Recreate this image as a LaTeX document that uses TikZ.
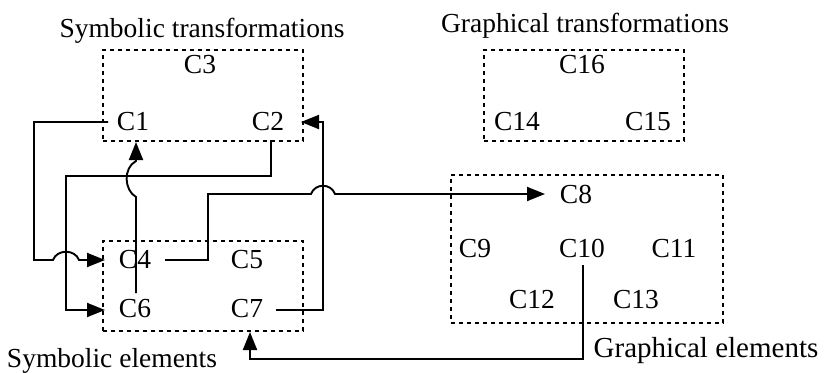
\documentclass[tikz,border=0pt]{standalone}
\usepackage{fontspec}
\setmainfont{Liberation Serif}
\usetikzlibrary{arrows.meta}
\begin{document}
\begin{tikzpicture}[x=1pt,y=-1pt,
  lbl/.style={anchor=base, inner sep=0pt, font=\fontsize{27.5}{32}\selectfont},
  grp/.style={draw, line width=1.9pt, dash pattern=on 4pt off 4pt, anchor=north west, inner sep=0pt},
  conn/.style={line width=1.9pt, -{Triangle[length=18pt,width=14pt]}}]
\useasboundingbox (0,0) rectangle (824,372);
% groups
\node[grp, minimum width=200pt, minimum height=91pt] (box1) at (102,49) {};
\node[grp, minimum width=200pt, minimum height=91pt] (box3) at (483,49) {};
\node[grp, minimum width=200pt, minimum height=90pt] (box2) at (102,240) {};
\node[grp, minimum width=272pt, minimum height=148pt] (box4) at (450,174) {};
% titles
\node[lbl] (t1) at (202,37) {Symbolic transformations};
\node[lbl] (t2) at (585,32) {Graphical transformations};
\node[lbl] (t3) at (112,367) {Symbolic elements};
\node[lbl, font=\fontsize{29}{33}\selectfont] (t4) at (706,357) {Graphical elements};
% labels
\node[lbl] (C3) at (200,73) {C3};
\node[lbl] (C1) at (133,130) {C1};
\node[lbl] (C2) at (268,130) {C2};
\node[lbl] (C16) at (582,73) {C16};
\node[lbl] (C14) at (517,130) {C14};
\node[lbl] (C15) at (648,130) {C15};
\node[lbl] (C4) at (135,268) {C4};
\node[lbl] (C5) at (247,268) {C5};
\node[lbl] (C6) at (135,317) {C6};
\node[lbl] (C7) at (247,317) {C7};
\node[lbl] (C8) at (576,203) {C8};
\node[lbl] (C9) at (475,257) {C9};
\node[lbl] (C10) at (582,257) {C10};
\node[lbl] (C11) at (674,257) {C11};
\node[lbl] (C12) at (532,308) {C12};
\node[lbl] (C13) at (636,308) {C13};
% connector end points
\coordinate (c1out) at (108,122);
\coordinate (c4in) at (105,260);
\coordinate (c2out) at (271,140);
\coordinate (c6in) at (105,310);
\coordinate (c6out) at (136,293);
\coordinate (c1in) at (136,142);
\coordinate (c4out) at (165,260);
\coordinate (c8in) at (545,194);
\coordinate (c7out) at (276,310);
\coordinate (c2in) at (301,122);
\coordinate (c10out) at (583,265);
\coordinate (c7in) at (250,332);
% C1 -> C4 (hop over x=66)
\draw[conn] (c1out) -- (34,122) -- (34,260) -- (53,260)
  .. controls (57,249) and (75,249) .. (79,260) -- (c4in);
% C2 -> C6
\draw[conn] (c2out) -- (271,176) -- (66,176) -- (66,310) -- (c6in);
% C6 -> C1 (hop over y=176)
\draw[conn] (c6out) -- (136,197) .. controls (124,190) and (123,168) .. (136,161) -- (c1in);
% C4 -> C8 (hop over x=323)
\draw[conn] (c4out) -- (208,260) -- (208,194) -- (311,194)
  .. controls (315,183) and (331,183) .. (335,194) -- (c8in);
% C7 -> C2
\draw[conn] (c7out) -- (323,310) -- (323,122) -- (c2in);
% C10 -> C7
\draw[conn] (c10out) -- (583,359) -- (250,359) -- (c7in);
\end{tikzpicture}
\end{document}
